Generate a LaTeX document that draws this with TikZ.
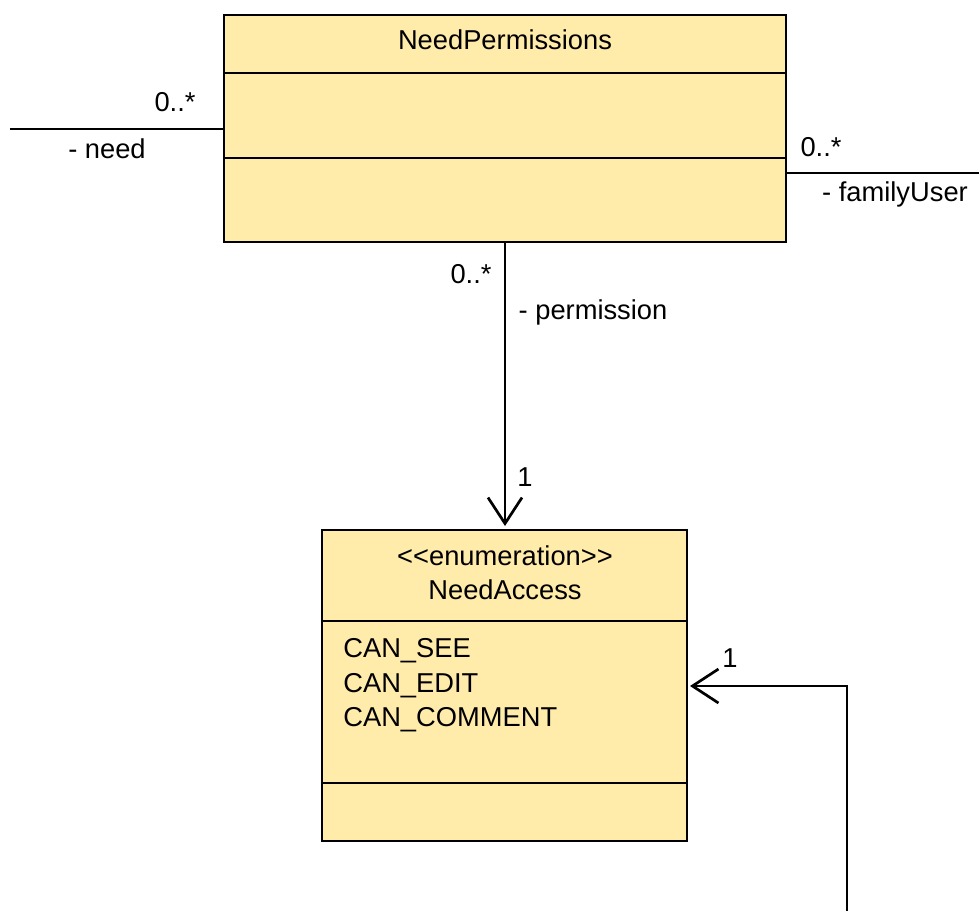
\documentclass[tikz,border=0pt]{standalone}
\usepackage{fontspec}
\setmainfont{Liberation Sans}
\usetikzlibrary{arrows.meta}
\definecolor{classfill}{RGB}{255,235,170}
\begin{document}
\begin{tikzpicture}[x=1pt,y=-1pt,line width=2.7pt,
  classbox/.style={draw, fill=classfill, line width=2.7pt, inner sep=0, outer sep=0},
  lbl/.style={font=\fontsize{27.3}{34}\selectfont, anchor=base, inner sep=0},
  opentip/.style={-{Straight Barb[length=26pt,width=34pt,line width=2.7pt]}}]
\useasboundingbox (0,0) rectangle (979,911);

% class NeedPermissions
\node[classbox, minimum width=562pt, minimum height=227pt, anchor=north west] (perm) at (224,15) {};
\draw (perm.west |- 0,73) -- (perm.east |- 0,73);
\draw (perm.west |- 0,158) -- (perm.east |- 0,158);
\node[lbl] (permTitle) at (505,49) {NeedPermissions};

% enumeration NeedAccess
\node[classbox, minimum width=365pt, minimum height=311pt, anchor=north west] (access) at (322,530) {};
\draw (access.west |- 0,621) -- (access.east |- 0,621);
\draw (access.west |- 0,783) -- (access.east |- 0,783);
\node[lbl] (accStereo) at (505,565) {<{}<enumeration>{}>};
\node[lbl] (accTitle) at (505,599) {NeedAccess};
\node[lbl, anchor=base west] (litSee) at (342,657) {CAN\_SEE};
\node[lbl, anchor=base west] (litEdit) at (342,692) {CAN\_EDIT};
\node[lbl, anchor=base west] (litComment) at (342,726) {CAN\_COMMENT};

% association - need
\coordinate (needEnd) at (10,129);
\draw (needEnd) -- (perm.west |- needEnd);
\node[lbl] (needMult) at (175,111) {0..*};
\node[lbl] (needRole) at (107,158) {- need};

% association - familyUser
\coordinate (famEnd) at (979,173);
\draw (perm.east |- famEnd) -- (famEnd);
\node[lbl] (famMult) at (821,156) {0..*};
\node[lbl] (famRole) at (895,201) {- familyUser};

% association - permission
\coordinate (accTop) at ([yshift=4pt]access.north);
\draw[opentip] (perm.south) -- (perm.south |- accTop);
\node[lbl] (permMult) at (471,283) {0..*};
\node[lbl] (permRole) at (593,319) {- permission};
\node[lbl] (permOne) at (525,486) {1};

% association into NeedAccess from below
\coordinate (selfEnd) at (847,911);
\coordinate (selfTurn) at (847,686);
\coordinate (accHook) at ([xshift=3pt]access.east);
\draw[opentip] (selfEnd) -- (selfTurn) -- (selfTurn -| accHook);
\node[lbl] (selfOne) at (730,667) {1};
\end{tikzpicture}
\end{document}
